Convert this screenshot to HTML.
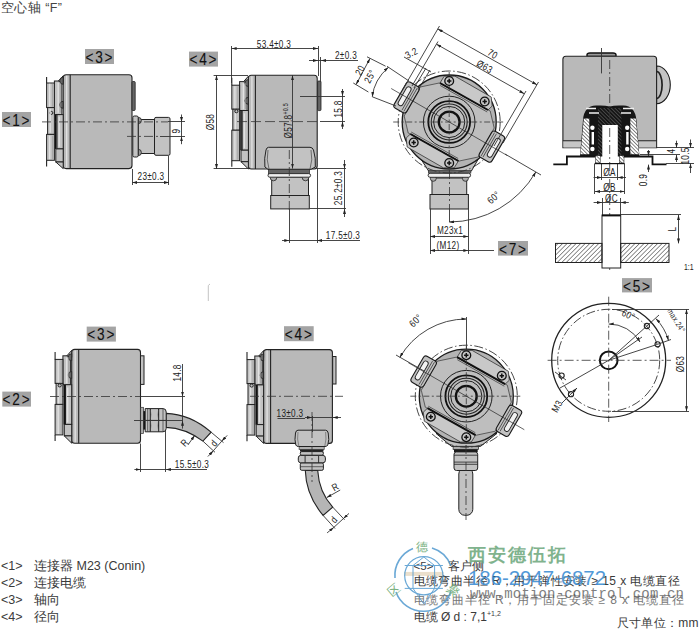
<!DOCTYPE html>
<html><head><meta charset="utf-8">
<style>
html,body{margin:0;padding:0;background:#fff;width:700px;height:629px;overflow:hidden}
svg{position:absolute;left:0;top:0;display:block}
text{font-family:"Liberation Sans",sans-serif}
.lb{fill:#a4a4a4}
.lt{font-size:17px;fill:#111;letter-spacing:2.3px;stroke:#111;stroke-width:0.15}
.dim{stroke:#333;stroke-width:0.9;fill:none}
.dt{font-size:10px;fill:#222;letter-spacing:0.4px}
.ol{stroke:#222;stroke-width:1.1}
.cl{stroke:#333;stroke-width:0.8;stroke-dasharray:9 3 2 3;fill:none}
.bd{fill:#b9b9b9;stroke:#222;stroke-width:1.1}
.fl{fill:#c2c2c2;stroke:#222;stroke-width:1}
.lg{font-size:12.5px;fill:#3a3a3a}
</style></head><body>
<svg width="700" height="629" viewBox="0 0 700 629">
<defs>
<marker id="ar" viewBox="0 0 10 6" refX="10" refY="3" markerWidth="5" markerHeight="3" orient="auto-start-reverse" markerUnits="userSpaceOnUse">
<path d="M0,0 L10,3 L0,6 z" fill="#222"/></marker>
<g id="side">
<!-- body -->
<path class="bd" d="M0,3 Q0,0 3,0 H65.8 Q68.8,0 68.8,3 V90.8 Q68.8,93.8 65.8,93.8 H3 Q0,93.8 0,90.8 Z"/>
<line class="ol" x1="7" y1="0" x2="7" y2="93.8"/>
<!-- flange -->
<rect class="fl" x="-8.8" y="6.2" width="7.5" height="33.6"/>
<path class="fl" d="M-4.8,6.2 L0,1 L0,8 Z"/>
<path d="M0,2.5 A3.5,3.5 0 0 0 0,9.5 Z" fill="#666" stroke="#222" stroke-width="0.8"/>
<path d="M0,26.5 A3.5,3.5 0 0 0 0,33.5 Z" fill="#666" stroke="#222" stroke-width="0.8"/>
<rect class="fl" x="-16.6" y="8.2" width="7.8" height="24.6"/>
<line class="ol" x1="-16.6" y1="2.2" x2="-16.6" y2="8.2"/>
<rect class="fl" x="-15.6" y="32.8" width="6.8" height="26.8"/>
<circle class="fl" cx="-11.8" cy="38.1" r="1.5"/>
<rect class="fl" x="-6.2" y="39.8" width="6.2" height="34.3"/>
<line stroke="#111" stroke-width="1.6" x1="-7.4" y1="39.8" x2="-7.4" y2="74.1"/>
<rect class="fl" x="-7.4" y="74.1" width="7.4" height="13.1"/>
<rect class="fl" x="-16.6" y="59.6" width="7.8" height="25.9"/>
<line class="ol" x1="-16.6" y1="85.5" x2="-16.6" y2="91.6"/>
<path class="fl" d="M-7.4,87.2 L0,93.8 L0,87.2 Z"/>
<path d="M-13.5,9 V32 M-13,34 V58 M-13.5,61 V84.5 M-5,8 V38 M-4,42 V72 M3.5,1 V92.8" stroke="#e2e2e2" stroke-width="1.3"/>
<path d="M-10.5,9 V32 M-10.5,61 V84.5 M-3,8 V38" stroke="#9a9a9a" stroke-width="0.8"/>
</g>
<g id="side2">
<path class="bd" d="M0,3 Q0,0 3,0 H65.8 Q68.8,0 68.8,3 V90.8 Q68.8,93.8 65.8,93.8 H3 Q0,93.8 0,90.8 Z"/>
<line class="ol" x1="7" y1="0" x2="7" y2="93.8"/>
<rect class="fl" x="-8.8" y="6.4" width="7.5" height="28.9"/>
<path class="fl" d="M-4.8,6.4 L0,1 L0,8 Z"/>
<path d="M0,4.3 A3.5,3.5 0 0 0 0,11.3 Z" fill="#666" stroke="#222" stroke-width="0.8"/>
<path d="M0,22.1 A3.5,3.5 0 0 0 0,29.1 Z" fill="#666" stroke="#222" stroke-width="0.8"/>
<rect class="fl" x="-16.6" y="10" width="7.8" height="24"/>
<line class="ol" x1="-16.6" y1="2.5" x2="-16.6" y2="10"/>
<rect class="fl" x="-15.6" y="34" width="6.8" height="21"/>
<circle class="fl" cx="-12" cy="36" r="1.6"/>
<rect class="fl" x="-6.2" y="35.3" width="6.2" height="39.7"/>
<line stroke="#111" stroke-width="1.6" x1="-7.4" y1="35.3" x2="-7.4" y2="75"/>
<rect class="fl" x="-7.4" y="75" width="7.4" height="11.5"/>
<rect class="fl" x="-16.6" y="55" width="7.8" height="30.5"/>
<line class="ol" x1="-16.6" y1="85.5" x2="-16.6" y2="91.6"/>
<path class="fl" d="M-7.4,86.5 L0,93.8 L0,86.5 Z"/>
<path d="M-13.5,11 V33 M-13,38 V54 M-13.5,56 V84.5 M-5,8 V34 M-4,38 V73 M3.5,1 V92.8" stroke="#e2e2e2" stroke-width="1.3"/>
<path d="M-10.5,11 V33 M-10.5,56 V84.5 M-3,8 V34" stroke="#9a9a9a" stroke-width="0.8"/>
</g>
<g id="scr"><circle r="4.4" fill="#c4c4c4" stroke="#111" stroke-width="1.3"/><path d="M-2.2,0H2.2M0,-2.2V2.2" stroke="#111" stroke-width="1.5"/></g>
<g id="front">
<circle r="51" fill="none" stroke="#333" stroke-width="0.9" stroke-dasharray="9 2.5 1.5 2.5"/>
<circle r="47" fill="#b3b3b3" stroke="#1a1a1a" stroke-width="1.3"/>
<polygon points="-29,-35 -10,-39 41,-11 45,6 29,35 10,39 -41,11 -45,-6" fill="#bebebe" stroke="#333" stroke-width="0.7"/>
<polygon points="-9.2,-39 -5,-45.8 5.8,-45.8 42,-25 43,-16 38.8,-12" fill="#c8c8c8" stroke="#333" stroke-width="0.8"/>
<polygon points="9.2,39 5,45.8 -5.8,45.8 -42,25 -43,16 -38.8,12" fill="#c8c8c8" stroke="#333" stroke-width="0.8"/>
<line x1="-9.2" y1="-39" x2="38.8" y2="-12" stroke="#111" stroke-width="2"/>
<line x1="9.2" y1="39" x2="-38.8" y2="12" stroke="#111" stroke-width="2"/>
<line x1="-9" y1="-36.5" x2="38" y2="-10" stroke="#333" stroke-width="0.7"/>
<line x1="9" y1="36.5" x2="-38" y2="10" stroke="#333" stroke-width="0.7"/>
<g transform="rotate(210)"><rect x="42" y="-15" width="14.5" height="30" rx="3" fill="#c2c2c2" stroke="#1a1a1a" stroke-width="1.1"/><rect x="49" y="-10.5" width="5" height="21" rx="2.5" fill="#f2f2f2" stroke="#222" stroke-width="0.9"/><line x1="44.6" y1="-13.5" x2="44.6" y2="13.5" stroke="#333" stroke-width="0.7"/><line x1="46.8" y1="-13.5" x2="46.8" y2="13.5" stroke="#333" stroke-width="0.7"/></g>
<g transform="rotate(30)"><rect x="42" y="-15" width="14.5" height="30" rx="3" fill="#c2c2c2" stroke="#1a1a1a" stroke-width="1.1"/><rect x="49" y="-10.5" width="5" height="21" rx="2.5" fill="#f2f2f2" stroke="#222" stroke-width="0.9"/><line x1="44.6" y1="-13.5" x2="44.6" y2="13.5" stroke="#333" stroke-width="0.7"/><line x1="46.8" y1="-13.5" x2="46.8" y2="13.5" stroke="#333" stroke-width="0.7"/></g>
<circle r="25.8" fill="none" stroke="#222" stroke-width="1"/>
<circle r="20.9" fill="none" stroke="#111" stroke-width="1.8"/>
<circle r="18" fill="none" stroke="#222" stroke-width="1.1"/>
<circle r="15.6" fill="none" stroke="#222" stroke-width="1"/>
<circle r="10.4" fill="none" stroke="#111" stroke-width="2.3"/>
<line class="cl" x1="-56" y1="0" x2="56" y2="0" style="stroke-dasharray:6 2.5 2 2.5"/>
<line class="cl" x1="0" y1="-50" x2="0" y2="50" style="stroke-dasharray:6 2.5 2 2.5"/>
<line x1="-58" y1="-33.5" x2="58" y2="33.5" stroke="#222" stroke-width="0.7"/>
<use href="#scr" x="0" y="-41"/><use href="#scr" x="35.5" y="-20.5"/><use href="#scr" x="-35.5" y="20.5"/><use href="#scr" x="0" y="41"/>
</g>
</defs>

<!-- title -->
<text x="1" y="11.5" textLength="61" style="font-size:12.5px;fill:#444">空心轴 “F”</text>

<!-- ===== Row 1, view 3 ===== -->
<rect class="lb" x="85" y="49" width="29" height="15"/>
<text class="lt" transform="translate(99.9,62.7) scale(0.8,1)" text-anchor="middle">&lt;3&gt;</text>
<rect class="lb" x="2" y="112" width="29" height="15"/>
<text class="lt" transform="translate(16.9,125.7) scale(0.8,1)" text-anchor="middle">&lt;1&gt;</text>
<use href="#side" x="63.2" y="74.8"/>
<rect x="132" y="81.5" width="3.2" height="29" rx="1" fill="#666" stroke="#222" stroke-width="0.8"/>
<rect class="fl" x="138.2" y="119.5" width="16.3" height="34"/>
<path d="M138.2,117.3 A3.2,3.2 0 0 1 138.2,123.7 Z M138.2,149.3 A3.2,3.2 0 0 1 138.2,155.7 Z" fill="#999" stroke="#222" stroke-width="0.8"/>
<rect class="fl" x="132.8" y="116" width="5.4" height="41" rx="1.5"/>
<rect class="fl" x="154.5" y="117.4" width="15.5" height="37.9" rx="1.5"/>
<line class="cl" x1="42" y1="121.9" x2="168" y2="121.9"/>
<line class="cl" x1="127" y1="136.4" x2="160" y2="136.4"/>
<line class="dim" x1="168" y1="121.5" x2="185" y2="121.5"/>
<line class="dim" x1="160" y1="136.5" x2="185" y2="136.5"/>
<line class="dim" x1="181.5" y1="114.5" x2="181.5" y2="121.9" marker-end="url(#ar)"/>
<line class="dim" x1="181.5" y1="144.2" x2="181.5" y2="136.4" marker-end="url(#ar)"/>
<line class="dim" x1="181.5" y1="121.9" x2="181.5" y2="136.4"/>
<text class="dt" transform="translate(180,131) rotate(-90) scale(0.82,1)" text-anchor="middle">9</text>
<line class="dim" x1="132.5" y1="169" x2="132.5" y2="185"/>
<line class="dim" x1="168.5" y1="155.6" x2="168.5" y2="185"/>
<line class="dim" x1="132.4" y1="182.5" x2="169" y2="182.5" marker-start="url(#ar)" marker-end="url(#ar)"/>
<text class="dt" transform="translate(151,180) scale(0.82,1)" text-anchor="middle">23±0.3</text>

<!-- ===== Row 1, view 4 ===== -->
<rect class="lb" x="189" y="51.6" width="29" height="15"/>
<text class="lt" transform="translate(203.9,65.3) scale(0.8,1)" text-anchor="middle">&lt;4&gt;</text>
<use href="#side2" x="248.4" y="75.2"/>
<rect x="317.6" y="81" width="3.4" height="29.6" rx="1" fill="#666" stroke="#222" stroke-width="0.8"/>
<rect class="fl" x="271.7" y="177" width="36.8" height="18.5"/>
<circle cx="273.5" cy="177.5" r="3.3" fill="#aaa" stroke="#222" stroke-width="0.8"/><circle cx="305.5" cy="177.5" r="3.3" fill="#aaa" stroke="#222" stroke-width="0.8"/>
<path class="fl" d="M268.5,147.3 H310 Q312.5,147.3 313.5,150 Q316,158 315.3,167 L311,169.3 H268 L264.9,167 Q264,158 266,150 Q266.8,147.3 268.5,147.3 Z"/>
<path d="M268,150 Q266,160 269,169 M311,150 Q313,160 310,169" fill="none" stroke="#444" stroke-width="0.7"/>
<rect x="268.5" y="169.3" width="41" height="4.5" fill="#666" stroke="#222" stroke-width="0.7"/>
<rect x="268" y="173.6" width="42.6" height="3.6" rx="1.8" fill="#eee" stroke="#222" stroke-width="0.9"/>
<rect class="fl" x="270.7" y="195.5" width="38.6" height="13.4"/>
<line class="cl" x1="237" y1="121.6" x2="320" y2="121.6" style="stroke-dasharray:10 4"/>
<line class="cl" x1="289.3" y1="150" x2="289.3" y2="212"/>
<!-- 53.4 -->
<line class="dim" x1="231.5" y1="46" x2="231.5" y2="83"/>
<line class="dim" x1="318.5" y1="46" x2="318.5" y2="76"/>
<line class="dim" x1="231.6" y1="48.5" x2="318" y2="48.5" marker-start="url(#ar)" marker-end="url(#ar)"/>
<text class="dt" transform="translate(274,47.5) scale(0.82,1)" text-anchor="middle">53.4±0.3</text>
<!-- 2 -->
<line class="dim" x1="320.5" y1="57" x2="320.5" y2="82"/>
<line class="dim" x1="309" y1="60.5" x2="318" y2="60.5" marker-end="url(#ar)"/>
<line class="dim" x1="358" y1="60.5" x2="321" y2="60.5" marker-end="url(#ar)"/>
<line class="dim" x1="318" y1="60.5" x2="321" y2="60.5"/>
<text class="dt" transform="translate(346,58.5) scale(0.82,1)" text-anchor="middle">2±0.3</text>
<!-- Ø58 -->
<line class="dim" x1="213.6" y1="75.5" x2="248" y2="75.5"/>
<line class="dim" x1="213.6" y1="168.5" x2="248" y2="168.5"/>
<line class="dim" x1="216.5" y1="75.2" x2="216.5" y2="169" marker-start="url(#ar)" marker-end="url(#ar)"/>
<text class="dt" transform="translate(214,122) rotate(-90) scale(0.82,1)" text-anchor="middle">Ø58</text>
<!-- Ø57.8 -->
<line class="dim" x1="292.5" y1="75.2" x2="292.5" y2="168.6" marker-start="url(#ar)" marker-end="url(#ar)"/>
<text class="dt" transform="translate(291.8,138.5) rotate(-90) scale(0.82,1)">Ø57.8<tspan dy="-3.5" style="font-size:6.5px;letter-spacing:0.3px">+0.5</tspan></text>
<!-- 15.8 -->
<line class="dim" x1="300" y1="96.5" x2="345" y2="96.5"/>
<line class="dim" x1="320" y1="121.5" x2="345" y2="121.5"/>
<line class="dim" x1="342.5" y1="89" x2="342.5" y2="96" marker-end="url(#ar)"/>
<line class="dim" x1="342.5" y1="129" x2="342.5" y2="121.6" marker-end="url(#ar)"/>
<line class="dim" x1="342.5" y1="96" x2="342.5" y2="121.6"/>
<text class="dt" transform="translate(341.5,109) rotate(-90) scale(0.82,1)" text-anchor="middle">15.8</text>
<!-- 25.2 -->
<line class="dim" x1="317" y1="168.5" x2="346" y2="168.5"/>
<line class="dim" x1="309.3" y1="208.5" x2="346" y2="208.5"/>
<line class="dim" x1="344.5" y1="160" x2="344.5" y2="168.6" marker-end="url(#ar)"/>
<line class="dim" x1="344.5" y1="217" x2="344.5" y2="208.9" marker-end="url(#ar)"/>
<line class="dim" x1="344.5" y1="168.6" x2="344.5" y2="208.9"/>
<text class="dt" transform="translate(342,188) rotate(-90) scale(0.82,1)" text-anchor="middle">25.2±0.3</text>
<!-- 17.5 -->
<line class="dim" x1="317.5" y1="168.6" x2="317.5" y2="243"/>
<line class="dim" x1="289.5" y1="208.9" x2="289.5" y2="243"/>
<line class="dim" x1="282" y1="240.5" x2="289.3" y2="240.5" marker-end="url(#ar)"/>
<line class="dim" x1="360" y1="240.5" x2="317.2" y2="240.5" marker-end="url(#ar)"/>
<line class="dim" x1="289.3" y1="240.5" x2="317.2" y2="240.5"/>
<text class="dt" transform="translate(343,238.5) scale(0.82,1)" text-anchor="middle">17.5±0.3</text>


<!-- ===== Row 1, view 7 ===== -->
<path class="fl" d="M419,156 L480,156 L471.4,171 L428.6,171 Z" stroke-width="0.8" fill="#b6b6b6"/>
<rect class="fl" x="432" y="178" width="34.7" height="16.5"/>
<circle cx="433.3" cy="178.3" r="3" fill="#aaa" stroke="#222" stroke-width="0.8"/><circle cx="465.4" cy="178.3" r="3" fill="#aaa" stroke="#222" stroke-width="0.8"/>
<rect x="428.3" y="170.9" width="42.6" height="2.2" fill="#777" stroke="#222" stroke-width="0.6"/>
<rect x="428.1" y="173.3" width="42.5" height="4" rx="2" fill="#eee" stroke="#222" stroke-width="0.9"/>
<rect class="fl" x="430" y="194.5" width="38.4" height="14.5"/>
<use href="#front" x="449.2" y="122"/>
<line class="cl" x1="449.5" y1="170" x2="449.5" y2="209"/>
<line class="dim" x1="449.5" y1="209" x2="449.5" y2="222"/>
<line class="dim" x1="430.5" y1="209" x2="430.5" y2="254"/>
<line class="dim" x1="468.5" y1="209" x2="468.5" y2="254"/>
<line class="dim" x1="430" y1="236.5" x2="468.4" y2="236.5" marker-start="url(#ar)" marker-end="url(#ar)"/>
<line class="dim" x1="430" y1="250.5" x2="468.4" y2="250.5" marker-start="url(#ar)" marker-end="url(#ar)"/>
<line class="dim" x1="468.4" y1="250.5" x2="494" y2="250.5"/>
<text class="dt" transform="translate(450,234) scale(0.82,1)" text-anchor="middle">M23x1</text>
<text class="dt" transform="translate(448,249) scale(0.82,1)" text-anchor="middle">(M12)</text>
<rect class="lb" x="498" y="241" width="30" height="14.6"/>
<text class="lt" transform="translate(513.4,254.7) scale(0.8,1)" text-anchor="middle">&lt;7&gt;</text>
<path class="dim" d="M449.2,222 A100,100 0 0 0 535.8,172" marker-start="url(#ar)" marker-end="url(#ar)"/>
<line class="dim" x1="505" y1="154" x2="541" y2="175"/>
<text class="dt" transform="translate(496,200) rotate(-42) scale(0.82,1)" text-anchor="middle">60°</text>
<!-- 70 / Ø63 -->
<line class="dim" x1="437.8" y1="28.9" x2="537" y2="84.8" marker-start="url(#ar)" marker-end="url(#ar)"/>
<line class="dim" x1="436.5" y1="44.2" x2="524.2" y2="93.7" marker-start="url(#ar)" marker-end="url(#ar)"/>
<line class="dim" x1="439.5" y1="26" x2="403" y2="89"/>
<line class="dim" x1="538.5" y1="82" x2="503" y2="143"/>
<line class="dim" x1="438" y1="41.5" x2="412" y2="86"/>
<line class="dim" x1="526" y1="91" x2="494" y2="146"/>
<text class="dt" transform="translate(491,57) rotate(29.4) scale(0.82,1)" text-anchor="middle">70</text>
<text class="dt" transform="translate(483,69.5) rotate(29.4) scale(0.82,1)" text-anchor="middle">Ø63</text>
<!-- 20 / 25 / 3.2 -->
<line class="dim" x1="370" y1="58.4" x2="356.1" y2="84.5" marker-start="url(#ar)" marker-end="url(#ar)"/>
<line class="dim" x1="367" y1="56.8" x2="385.6" y2="66.2"/>
<line class="dim" x1="353.3" y1="83" x2="368.4" y2="92"/>
<path class="dim" d="M388.4,67.3 Q374,80 372.3,96.8" marker-start="url(#ar)" marker-end="url(#ar)"/>
<line class="dim" x1="387" y1="66.3" x2="409" y2="81"/>
<line class="dim" x1="372.3" y1="96.8" x2="396" y2="106"/>
<text class="dt" transform="translate(363,72) rotate(-62) scale(0.82,1)" text-anchor="middle">20</text>
<text class="dt" transform="translate(373,78) rotate(-62) scale(0.82,1)" text-anchor="middle">25°</text>
<line class="dim" x1="404" y1="57" x2="431" y2="72" />
<text class="dt" transform="translate(413,56) rotate(-28) scale(0.82,1)" text-anchor="middle">3.2</text>
<line class="dim" x1="414" y1="88" x2="426" y2="68"/>
<line class="dim" x1="418" y1="90" x2="430" y2="70"/>


<!-- ===== Section view ===== -->
<path d="M587,56.5 V54.8 Q587,53 590,53 H613 Q616,53 616,54.8 V56.5 Z" fill="#999" stroke="#111" stroke-width="1.4"/>
<path d="M656.6,66 A13.7,18.85 0 0 1 656.6,103.7 Z" fill="#c4c4c4" stroke="#1a1a1a" stroke-width="1.1"/>
<path d="M656.6,71.5 A5.5,13.5 0 0 1 656.6,98.5" fill="#bdbdbd" stroke="#222" stroke-width="1.7"/>
<path class="bd" d="M562.9,59.3 Q562.9,56.3 565.9,56.3 H653.6 Q656.6,56.3 656.6,59.3 V147.7 H562.9 Z"/>
<rect x="563.4" y="140.7" width="92.7" height="6.8" fill="#c6c6c6"/>
<line class="ol" x1="562.9" y1="140.7" x2="656.6" y2="140.7" stroke-width="1"/>
<path d="M580,156.5 L583,120 Q584,106 596,105.6 Q604,105 609.7,106.5 Q615,105 623.4,105.6 Q635,106 636.4,120 L639.5,156.5 Z" fill="#151515"/>
<pattern id="hatw" patternUnits="userSpaceOnUse" width="2.6" height="2.6" patternTransform="rotate(45)"><rect width="2.6" height="2.6" fill="#fff"/><line x1="0" y1="0" x2="2.6" y2="0" stroke="#222" stroke-width="1.1"/></pattern>
<pattern id="hatd" patternUnits="userSpaceOnUse" width="2.6" height="2.6" patternTransform="rotate(45)"><rect width="2.6" height="2.6" fill="#151515"/><line x1="0" y1="0" x2="2.6" y2="0" stroke="#8a8a8a" stroke-width="0.8"/></pattern>
<polygon points="580.5,154.3 583.8,118.6 589.3,118.6 589.3,154.3" fill="url(#hatw)"/>
<polygon points="630.3,118.6 635.8,118.6 639,154.3 630.3,154.3" fill="url(#hatw)"/>
<rect x="598" y="108" width="23.4" height="47" fill="url(#hatd)"/>
<rect x="602.3" y="125" width="15.5" height="38.4" fill="#fff"/>
<circle cx="592.4" cy="127.8" r="2.2" fill="#fff"/><circle cx="592.4" cy="149" r="2.2" fill="#fff"/>
<circle cx="627.2" cy="127.8" r="2.2" fill="#fff"/><circle cx="627.2" cy="149" r="2.2" fill="#fff"/>
<rect x="591.6" y="132" width="2.4" height="12.5" fill="#fff"/><rect x="626.2" y="132" width="2.4" height="12.5" fill="#fff"/>
<path d="M586,108.5 H596 M589,113 H599 M623,108.5 H634 M621,113 H631" stroke="#eee" stroke-width="1.3"/>
<rect x="595.6" y="155.6" width="4.6" height="7.3" fill="url(#hatw)" stroke="#111" stroke-width="0.5"/>
<rect x="619.4" y="155.6" width="4.6" height="7.3" fill="url(#hatw)" stroke="#111" stroke-width="0.5"/>
<polyline points="553.3,164.3 566.9,164.3 566.9,156.5 595.3,156.5" fill="none" stroke="#111" stroke-width="1.8"/>
<polyline points="624,156.5 652.5,156.5 652.5,164.3 666.5,164.3" fill="none" stroke="#111" stroke-width="1.8"/>
<line class="cl" x1="609.7" y1="60" x2="609.7" y2="270"/>
<line class="dim" x1="601.5" y1="48" x2="601.5" y2="73.4"/>
<line class="dim" x1="594.5" y1="163.4" x2="594.5" y2="194"/>
<line class="dim" x1="624.5" y1="163.4" x2="624.5" y2="194"/>
<line class="dim" x1="601.5" y1="163.4" x2="601.5" y2="180"/>
<line class="dim" x1="617.5" y1="163.4" x2="617.5" y2="180"/>
<line x1="595" y1="163.6" x2="624.5" y2="163.6" stroke="#111" stroke-width="1.2"/>
<line class="dim" x1="593.6" y1="177.5" x2="601.6" y2="177.5" marker-end="url(#ar)"/>
<line class="dim" x1="626" y1="177.5" x2="617.6" y2="177.5" marker-end="url(#ar)"/>
<line class="dim" x1="601.6" y1="177.5" x2="617.6" y2="177.5"/>
<line class="dim" x1="595" y1="191.5" x2="624.5" y2="191.5" marker-start="url(#ar)" marker-end="url(#ar)"/>
<line class="dim" x1="593.6" y1="202.5" x2="602" y2="202.5" marker-end="url(#ar)"/>
<line class="dim" x1="628.8" y1="202.5" x2="620.7" y2="202.5" marker-end="url(#ar)"/>
<line class="dim" x1="602" y1="202.5" x2="620.7" y2="202.5"/>
<line class="dim" x1="602.5" y1="198" x2="602.5" y2="215"/>
<line class="dim" x1="620.5" y1="198" x2="620.5" y2="215"/>
<text class="dt" transform="translate(609.5,176.3) scale(0.82,1)" text-anchor="middle">ØA</text>
<text class="dt" transform="translate(609.5,190.6) scale(0.82,1)" text-anchor="middle">ØB</text>
<text class="dt" transform="translate(611.5,201.6) scale(0.82,1)" text-anchor="middle">ØC</text>
<rect x="602" y="215" width="18.7" height="53" fill="#fff" stroke="#222" stroke-width="1"/>
<line x1="602" y1="215.5" x2="620.7" y2="215.5" stroke="#111" stroke-width="1.8"/>
<pattern id="hat" patternUnits="userSpaceOnUse" width="3.2" height="3.2" patternTransform="rotate(45)"><line x1="0" y1="0" x2="0" y2="3.2" stroke="#222" stroke-width="1"/></pattern>
<rect x="555.5" y="243.4" width="46.5" height="19.1" fill="url(#hat)" stroke="#222" stroke-width="1"/>
<rect x="620.7" y="243.4" width="48.3" height="19.1" fill="url(#hat)" stroke="#222" stroke-width="1"/>
<line class="dim" x1="620.7" y1="214.5" x2="681" y2="214.5"/>
<line class="dim" x1="678.5" y1="215" x2="678.5" y2="243.4" marker-start="url(#ar)" marker-end="url(#ar)"/>
<text class="dt" transform="translate(676,229) rotate(-90) scale(0.82,1)" text-anchor="middle">L</text>
<text class="dt" transform="translate(684,269.5) scale(0.82,1)" style="font-size:8.5px;letter-spacing:0">1:1</text>
<line class="dim" x1="640" y1="154.5" x2="680" y2="154.5"/>
<line class="dim" x1="656.6" y1="147.5" x2="694" y2="147.5"/>
<line class="dim" x1="666" y1="163.5" x2="694" y2="163.5"/>
<line class="dim" x1="676.5" y1="140.7" x2="676.5" y2="147.7" marker-end="url(#ar)"/>
<line class="dim" x1="676.5" y1="162" x2="676.5" y2="155" marker-end="url(#ar)"/>
<line class="dim" x1="690.5" y1="139.5" x2="690.5" y2="147.7" marker-end="url(#ar)"/>
<line class="dim" x1="690.5" y1="173" x2="690.5" y2="163.4" marker-end="url(#ar)"/>
<text class="dt" transform="translate(675,151) rotate(-90) scale(0.82,1)" text-anchor="middle">4</text>
<text class="dt" transform="translate(689,156) rotate(-90) scale(0.82,1)" text-anchor="middle">10.5</text>
<line class="dim" x1="648.5" y1="150" x2="648.5" y2="156" marker-end="url(#ar)"/>
<line class="dim" x1="648.5" y1="172" x2="648.5" y2="164.6" marker-end="url(#ar)"/>
<text class="dt" transform="translate(646.5,180) rotate(-90) scale(0.82,1)" text-anchor="middle">0.9</text>

<!-- ===== Row 2, view 3 ===== -->
<rect class="lb" x="86.7" y="326.6" width="29.2" height="15"/>
<text class="lt" transform="translate(101.7,340.3) scale(0.8,1)" text-anchor="middle">&lt;3&gt;</text>
<rect class="lb" x="2.3" y="391.6" width="28.7" height="15"/>
<text class="lt" transform="translate(17.0,405.3) scale(0.8,1)" text-anchor="middle">&lt;2&gt;</text>
<use href="#side2" x="71.7" y="349.4"/>

<!-- ===== Row 2, view 4 ===== -->
<rect class="lb" x="284" y="326.2" width="29.7" height="15"/>
<text class="lt" transform="translate(299.2,339.9) scale(0.8,1)" text-anchor="middle">&lt;4&gt;</text>
<use href="#side2" x="263.6" y="349.6"/>


<!-- row2 view3 details -->
<rect class="fl" x="140.5" y="355.8" width="3.5" height="28.6" fill="#777"/>
<path d="M166,413.4 Q190,414 211.1,432.2 L202.9,441.1 Q185,428 166,427.4 Z" fill="#b5b5b5" stroke="#222" stroke-width="1.1"/>
<rect x="140.7" y="407.3" width="2.9" height="26.1" fill="#b0b0b0" stroke="#333" stroke-width="0.7"/>
<rect x="143.4" y="411.1" width="2" height="18.5" fill="#111"/>
<path class="fl" d="M145.2,408.6 H163 Q166.2,408.6 166.2,412 V428.4 Q166.2,431.8 163,431.8 H145.2 Z"/>
<path d="M147.7,409 V431.4 M163,409 V431.4" stroke="#333" stroke-width="0.7"/>
<path d="M150.3,409 V431.4 M158.6,409 V431.4" stroke="#111" stroke-width="1.1"/>
<path d="M150.3,409.5 Q151.5,414.5 150.3,420 Q151.5,426 150.3,431 M158.6,409.5 Q157.4,414.5 158.6,420 Q157.4,426 158.6,431" fill="none" stroke="#555" stroke-width="0.6"/>
<line x1="145.2" y1="420.4" x2="166.2" y2="420.4" stroke="#222" stroke-width="0.8"/>
<line class="cl" x1="50" y1="396.5" x2="140" y2="396.5"/>
<line class="dim" x1="140.5" y1="396.5" x2="185" y2="396.5"/>
<line class="dim" x1="134" y1="420.5" x2="183" y2="420.5"/>
<line class="dim" x1="182.5" y1="364" x2="182.5" y2="396.6" marker-end="url(#ar)"/>
<line class="dim" x1="182.5" y1="428.6" x2="182.5" y2="420.7" marker-end="url(#ar)"/>
<line class="dim" x1="182.5" y1="396.6" x2="182.5" y2="420.7"/>
<text class="dt" transform="translate(181,373) rotate(-90) scale(0.82,1)" text-anchor="middle">14.8</text>
<line class="dim" x1="140.5" y1="443.5" x2="140.5" y2="472"/>
<line class="dim" x1="165.5" y1="431" x2="165.5" y2="472"/>
<line class="dim" x1="134.4" y1="469.5" x2="140.5" y2="469.5" marker-end="url(#ar)"/>
<line class="dim" x1="207" y1="469.5" x2="165.9" y2="469.5" marker-end="url(#ar)"/>
<line class="dim" x1="140.5" y1="469.5" x2="165.9" y2="469.5"/>
<text class="dt" transform="translate(192,467.5) scale(0.82,1)" text-anchor="middle">15.5±0.3</text>
<line class="dim" x1="211.1" y1="432.2" x2="223.5" y2="442.6"/>
<line class="dim" x1="202.9" y1="441.1" x2="215" y2="452.3"/>
<line class="dim" x1="207.9" y1="456.5" x2="213.3" y2="450.8" marker-end="url(#ar)"/>
<line class="dim" x1="227.2" y1="435.4" x2="221.8" y2="441.1" marker-end="url(#ar)"/>
<line class="dim" x1="213.3" y1="450.8" x2="221.8" y2="441.1"/>
<text class="dt" transform="translate(216.5,445.5) rotate(-50) scale(0.82,1)" text-anchor="middle">d</text>
<line class="dim" x1="187.9" y1="445" x2="194.7" y2="435.4" marker-end="url(#ar)"/>
<text class="dt" transform="translate(187,445) rotate(-48) scale(0.82,1)" text-anchor="middle">R</text>

<!-- row2 view4 details -->
<rect class="fl" x="332.7" y="356.5" width="3.3" height="27.5" fill="#777"/>
<path d="M305.3,470.5 L317.7,470.5 Q319,492 332.7,507.1 L323.1,515.4 Q306,495 305.3,470.5 Z" fill="#b5b5b5" stroke="#222" stroke-width="1.1"/>
<rect class="fl" x="300.3" y="462.8" width="23.1" height="7.5" rx="1.5"/>
<line x1="300.3" y1="466.7" x2="323.4" y2="466.7" stroke="#333" stroke-width="0.7"/>
<rect class="fl" x="298.3" y="455.4" width="27.1" height="7.4" rx="2.5"/>
<path d="M305.1,455.6 V462.8 M318.6,455.6 V462.8" stroke="#222" stroke-width="0.9"/>
<rect class="fl" x="300.3" y="451.6" width="23.1" height="3.6" rx="1.5"/>
<rect x="300" y="449.2" width="23.5" height="2.4" fill="#222"/>
<rect x="299.1" y="446.5" width="25.1" height="2.9" fill="#b0b0b0" stroke="#333" stroke-width="0.7"/>
<path class="fl" d="M298,430.2 H325.5 Q327.7,430.2 328.2,433 Q329.5,440 327.8,445 Q327,446.5 325,446.5 H298.6 Q296.5,446.5 295.8,445 Q294.3,440 295.5,433 Q296,430.2 298,430.2 Z"/>
<path d="M298,432 Q296.8,439 298.8,446 M325.6,432 Q326.8,439 324.8,446" fill="none" stroke="#555" stroke-width="0.6"/>
<line class="cl" x1="250" y1="396.3" x2="343" y2="396.3"/>
<line class="cl" x1="312" y1="412" x2="312" y2="482"/>
<line class="dim" x1="312.5" y1="416" x2="312.5" y2="432"/>
<line class="dim" x1="305" y1="417.5" x2="312" y2="417.5" marker-end="url(#ar)"/>
<line class="dim" x1="341" y1="417.5" x2="332.7" y2="417.5" marker-end="url(#ar)"/>
<line class="dim" x1="312" y1="417.5" x2="332.7" y2="417.5"/>
<line class="dim" x1="277.5" y1="418.5" x2="305" y2="418.5"/>
<text class="dt" transform="translate(290,416.5) scale(0.82,1)" text-anchor="middle">13±0.3</text>
<line class="dim" x1="323.1" y1="515.4" x2="335" y2="528.5"/>
<line class="dim" x1="332.7" y1="507.1" x2="344.6" y2="519.8"/>
<line class="dim" x1="327.1" y1="532.9" x2="333.8" y2="527.4" marker-end="url(#ar)"/>
<line class="dim" x1="349" y1="513.4" x2="343.4" y2="518.6" marker-end="url(#ar)"/>
<line class="dim" x1="333.8" y1="527.4" x2="343.4" y2="518.6"/>
<text class="dt" transform="translate(336.5,522) rotate(-50) scale(0.82,1)" text-anchor="middle">d</text>
<line class="dim" x1="340.2" y1="490" x2="326.7" y2="497.6" marker-end="url(#ar)"/>
<text class="dt" transform="translate(337,490) rotate(-30) scale(0.82,1)" text-anchor="middle">R</text>

<!-- front view 2 -->
<path class="fl" d="M436,433.4 L497,433.4 L480.5,446.4 L451.5,446.4 Z" stroke-width="0.8" fill="#b6b6b6"/>
<rect x="453.1" y="446.4" width="25.5" height="3" fill="#aaa" stroke="#222" stroke-width="0.7"/>
<rect x="454" y="449.3" width="23.7" height="2.8" fill="#1a1a1a"/>
<rect class="fl" x="458.8" y="468" width="14" height="47.3" rx="6"/>
<rect class="fl" x="454" y="451.9" width="23.7" height="18.6" rx="2.5"/>
<path d="M454,455.2 H477.7 M454,462.1 H477.7 M454,464.3 H477.7" stroke="#222" stroke-width="0.8"/>
<use href="#front" x="466.3" y="396.2"/>
<line class="cl" x1="466" y1="445" x2="466" y2="520"/>
<line class="dim" x1="466.5" y1="317" x2="466.5" y2="350"/>
<path class="dim" d="M466.5,319 A77,77 0 0 0 399.8,357.5" marker-start="url(#ar)" marker-end="url(#ar)"/>
<line class="dim" x1="396" y1="355" x2="424" y2="371"/>
<text class="dt" transform="translate(418,323) rotate(-45) scale(0.82,1)" text-anchor="middle">60°</text>

<!-- view 5 -->
<rect class="lb" x="622" y="278.1" width="30" height="14.3"/>
<text class="lt" transform="translate(637.4,291.7) scale(0.8,1)" text-anchor="middle">&lt;5&gt;</text>
<circle cx="608.7" cy="360.3" r="57" fill="none" stroke="#222" stroke-width="1.3"/>
<circle cx="608.7" cy="360.3" r="51" fill="none" stroke="#333" stroke-width="0.9" stroke-dasharray="9 2.5 1.5 2.5"/>
<circle cx="608.7" cy="360.3" r="8.9" fill="none" stroke="#111" stroke-width="2"/>
<line class="cl" x1="547.6" y1="360.3" x2="671" y2="360.3"/>
<line class="cl" x1="608.7" y1="296.7" x2="608.7" y2="422"/>
<g fill="none" stroke="#222" stroke-width="1.1"><circle cx="646.9" cy="326" r="2.6"/><circle cx="657.6" cy="344.3" r="2.6"/><circle cx="561.6" cy="375.6" r="2.6"/><circle cx="571" cy="394.2" r="2.6"/></g>
<line class="dim" x1="608.7" y1="360.3" x2="646.9" y2="326" stroke-width="0.7"/>
<line class="dim" x1="608.7" y1="360.3" x2="657.6" y2="344.3" stroke-width="0.7"/>
<line class="dim" x1="560" y1="388" x2="608.7" y2="360.3" stroke-width="0.7"/>
<line class="dim" x1="608.7" y1="360.3" x2="642" y2="337" stroke-width="0.7"/>
<path class="dim" d="M608.7,324 A36,36 0 0 1 640,342" marker-start="url(#ar)" marker-end="url(#ar)"/>
<text class="dt" transform="translate(627,318) rotate(25) scale(0.82,1)" text-anchor="middle">60°</text>
<line class="dim" x1="646.9" y1="326" x2="659" y2="315"/>
<line class="dim" x1="657.6" y1="344.3" x2="671" y2="339.5"/>
<path class="dim" d="M655.8,318.6 Q665,328 668.5,340.5" marker-start="url(#ar)" marker-end="url(#ar)"/>
<text class="dt" transform="translate(674,322) rotate(58) scale(0.82,1)" text-anchor="middle" style="font-size:8px">max.24°</text>
<line class="dim" x1="612" y1="309.5" x2="689" y2="309.5"/>
<line class="dim" x1="612" y1="411.5" x2="689" y2="411.5"/>
<line class="dim" x1="686.5" y1="309.3" x2="686.5" y2="411.3" marker-start="url(#ar)" marker-end="url(#ar)"/>
<text class="dt" transform="translate(684,364) rotate(-90) scale(0.82,1)" text-anchor="middle">Ø63</text>
<line class="dim" x1="555" y1="372" x2="566" y2="380"/>
<line class="dim" x1="562" y1="403" x2="577" y2="388" marker-end="url(#ar)"/>
<text class="dt" transform="translate(560,408) rotate(-60) scale(0.82,1)" text-anchor="middle">M3</text>

<path d="M210,284 L208.3,285.5 V301" fill="none" stroke="#c4c4c4" stroke-width="1"/>
<!-- ===== Legend ===== -->
<text class="lg" x="1" y="570">&lt;1&gt;</text><text class="lg" x="34" y="570">连接器 M23 (Conin)</text>
<text class="lg" x="1" y="587">&lt;2&gt;</text><text class="lg" x="34" y="587">连接电缆</text>
<text class="lg" x="1" y="604">&lt;3&gt;</text><text class="lg" x="34" y="604">轴向</text>
<text class="lg" x="1" y="621">&lt;4&gt;</text><text class="lg" x="34" y="621">径向</text>

<!-- bottom notes -->
<rect x="404" y="571.9" width="39.5" height="4" fill="#eadfcc"/>
<text class="lg" x="413.6" y="569.5" style="font-size:11.5px">&lt;5&gt;</text>
<text class="lg" x="448" y="569.5" style="font-size:12px">客户侧</text>
<text class="lg" x="413.6" y="585" textLength="266" style="font-size:12px">电缆弯曲半径 R，用于弹性安装 ≥ 15 x 电缆直径</text>
<text class="lg" x="413.6" y="603.5" textLength="270" style="font-size:12px;fill:#777">电缆弯曲半径 R，用于固定安装 ≥ 8 x 电缆直径</text>
<text class="lg" x="413.6" y="621" style="font-size:12px">电缆 Ø d : 7,1<tspan dy="-5" style="font-size:7px">+1,2</tspan></text>
<text class="lg" x="616.6" y="626.5" textLength="82" style="font-size:12px">尺寸单位：mm</text>
<!-- watermark -->
<g fill="none" stroke="#5a9fd2" opacity="0.9">
<circle cx="423.8" cy="575.7" r="19.1" stroke-width="1.2"/>
<path d="M395,578 A29,29 0 0 1 413,548.5 M432,548 A29,29 0 0 1 451,566 M451,591 A29,29 0 0 1 396,592" stroke-width="1.6"/>
<path d="M423.8,557 L413,565.5 V588.4 L423.8,604 L434.6,588.4 V565.5 Z M404.7,565.5 H442.9 M404.7,588.4 H442.9" stroke-width="1"/>
</g>
<g style="font-size:12px;fill:#78b07e">
<text x="416" y="551">德</text>
<text x="0" y="0" transform="translate(397,593) rotate(-40)" text-anchor="middle">区</text>
<text x="0" y="0" transform="translate(451,594) rotate(40)" text-anchor="middle">聚</text>
</g>
<text x="468" y="561" textLength="98" style="font-size:18px;font-weight:bold;fill:#6aa67a;opacity:0.85">西安德伍拓</text>
<text x="468" y="585.2" textLength="138" lengthAdjust="spacingAndGlyphs" style="font-size:20.5px;fill:#3f8fd4;opacity:0.9">186-2947-6872</text>
<text x="470" y="598" textLength="214" style="font-family:'Liberation Mono',monospace;font-size:14px;fill:#555;opacity:0.75">www.motion-control.com.cn</text>
</svg>
</body></html>
